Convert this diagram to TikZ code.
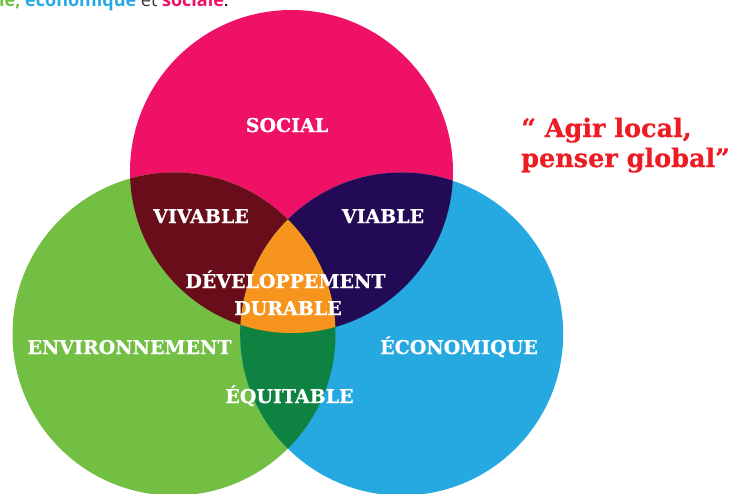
\documentclass[tikz,border=0pt]{standalone}
\usepackage{fontspec}
\setmainfont{DejaVu Serif}[BoldFeatures={FakeBold=0.6}]
\setsansfont{Open Sans}
\usetikzlibrary{positioning}
\definecolor{socialpink}{HTML}{EE1165}
\definecolor{envgreen}{HTML}{72BF44}
\definecolor{ecoblue}{HTML}{25A9E0}
\definecolor{vivred}{HTML}{6A0D1A}
\definecolor{viapurple}{HTML}{220A55}
\definecolor{equigreen}{HTML}{0E8240}
\definecolor{durorange}{HTML}{F7941D}
\definecolor{quotered}{HTML}{ED1C24}
\definecolor{introgray}{HTML}{333333}

\begin{document}
\begin{tikzpicture}[x=1pt,y=-1pt]
\tikzset{pillar/.style={text=white,inner sep=0pt,anchor=base,font=\bfseries\fontsize{19}{19}\selectfont},
  motto/.style={text=quotered,inner sep=0pt,anchor=base west,font=\bfseries\fontsize{25.5}{25.5}\selectfont}}
\useasboundingbox (0,0) rectangle (742,493);
\def\rad{161.5pt}
\coordinate (soc) at (291.5,171.5);
\coordinate (env) at (174,334);
\coordinate (eco) at (401.7,334);
% the three circles
\fill[socialpink] (soc) circle (\rad);
\fill[envgreen] (env) circle (\rad);
\fill[ecoblue] (eco) circle (\rad);
% overlaps
\begin{scope}
\clip (soc) circle (\rad);
\fill[vivred] (env) circle (\rad);
\fill[viapurple] (eco) circle (\rad);
\end{scope}
\begin{scope}
\clip (env) circle (\rad);
\fill[equigreen] (eco) circle (\rad);
\end{scope}
\begin{scope}
\clip (soc) circle (\rad);
\clip (env) circle (\rad);
\fill[durorange] (eco) circle (\rad);
\end{scope}
% labels
\node[pillar] (social) at (287,132) {SOCIAL};
\node[pillar] (vivable) at (201,223) {VIVABLE};
\node[pillar] (viable) at (383,223) {VIABLE};
\node[pillar] (dev) at (285.5,288) {DÉVELOPPEMENT};
\node[pillar] (durable) at (288,315) {DURABLE};
\node[pillar] (environ) at (129.5,354) {ENVIRONNEMENT};
\node[pillar] (econ) at (459,354) {ÉCONOMIQUE};
\node[pillar] (equit) at (289.5,403) {ÉQUITABLE};
\node[motto] (motto1) at (521,137) {“ Agir local,};
\node[motto] (motto2) at (521,167) {penser global”};
% cut-off line above
\node[inner sep=0pt,anchor=base west,font=\sffamily\fontsize{18}{18}\selectfont] (intro) at (-1,6.5)
  {\textbf{\color{envgreen}le,} \textbf{\color{ecoblue}économique} {\color{introgray}et} \textbf{\color{socialpink}sociale}.};
\end{tikzpicture}
\end{document}
